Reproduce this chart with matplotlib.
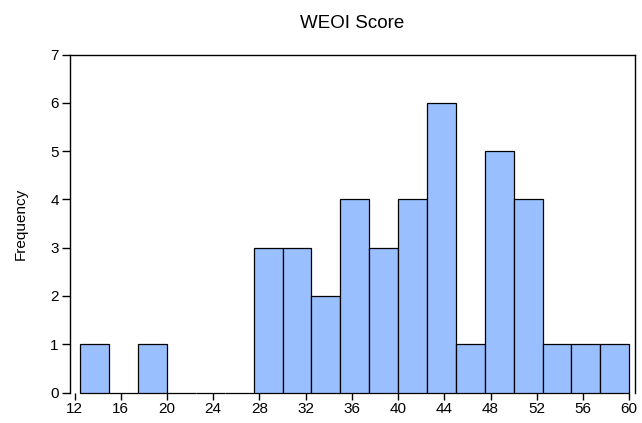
import matplotlib.pyplot as plt
import numpy as np

plt.rcParams['font.family'] = ['Liberation Sans', 'DejaVu Sans']

# histogram bins (left edges) and counts, bin width 2.5
bin_left = np.arange(12.5, 60, 2.5)
counts = [1, 0, 1, 0, 0, 0, 3, 3, 2, 4, 3, 4, 6, 1, 5, 4, 1, 1, 1]
xticks = np.arange(12, 61, 4)

fig = plt.figure(figsize=(6.42, 4.23), dpi=100)
ax = fig.add_axes([0.109, 0.072, 0.88, 0.799])

bars = ax.bar(bin_left, counts, width=2.5, align='edge', color='#99BFFF',
              edgecolor='black', linewidth=0.9)
for b in bars:
    b.set_clip_on(False)

ax.set_xlim(11.6, 60.5)
ax.set_ylim(0, 7)
ax.set_xticks(xticks)
ax.set_yticks(range(0, 8))
ax.spines['bottom'].set_visible(False)
for s in ['left', 'top', 'right']:
    ax.spines[s].set_linewidth(1.0)
ax.tick_params(axis='y', length=6, width=1.0, labelsize=11, pad=2)
ax.tick_params(axis='x', length=5, width=1.0, labelsize=11, pad=2)

ax.set_ylabel('Frequency', fontsize=11, labelpad=16)
ax.set_title('WEOI Score', fontsize=13.5, pad=19)

fig.savefig('out.png', dpi=100)
